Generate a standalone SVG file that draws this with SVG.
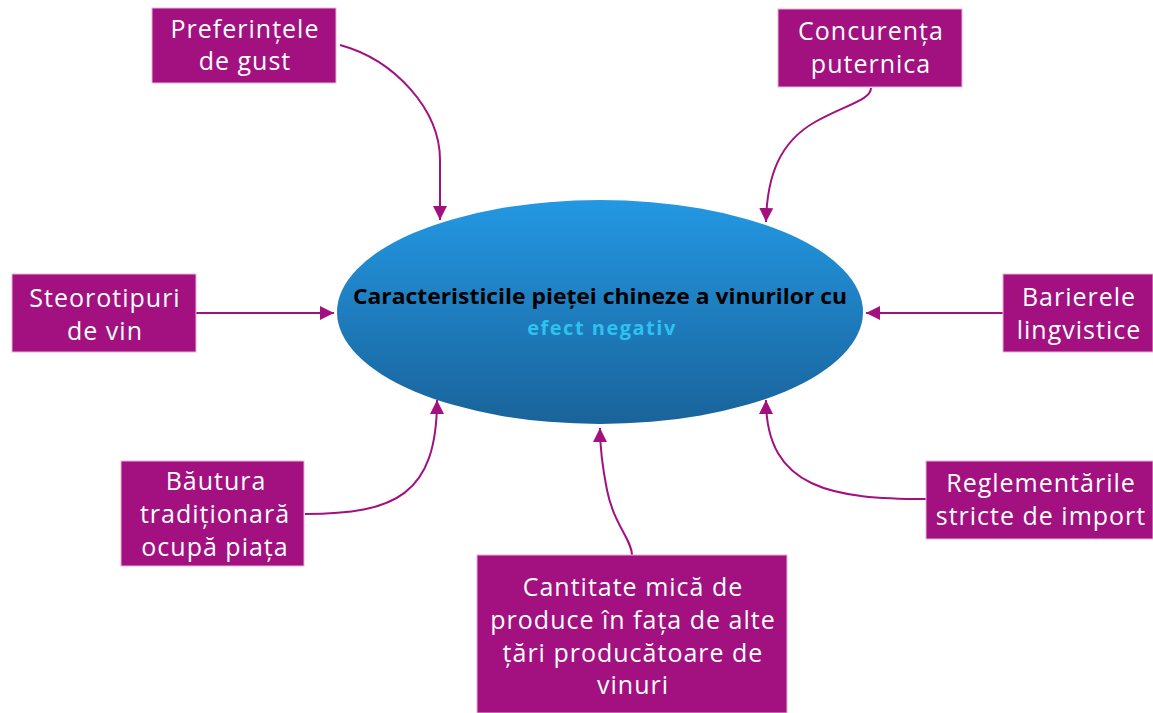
<svg xmlns="http://www.w3.org/2000/svg" width="1153" height="713" viewBox="0 0 1153 713">
<style>
.box{fill:#a2117f;stroke:#e8b4da;stroke-width:1}
.bt{font-family:"Open Sans","Noto Sans",sans-serif;font-size:25px;letter-spacing:1px;fill:#ffffff;text-anchor:middle}
.conn{fill:none;stroke:#a2117f;stroke-width:2}
.ct{font-family:"Open Sans","Noto Sans",sans-serif;font-weight:bold;font-size:20px;text-anchor:middle}
.ct1{font-size:21.5px}
</style>
<defs>
<linearGradient id="eg" x1="0" y1="0" x2="0" y2="1">
<stop offset="0" stop-color="#2398e3"/>
<stop offset="1" stop-color="#19639a"/>
</linearGradient>
<marker id="ah" markerUnits="userSpaceOnUse" markerWidth="16" markerHeight="14" refX="14" refY="7" orient="auto">
<path d="M0,0 L14,7 L0,14 Z" fill="#a2117f"/>
</marker>
</defs>
<rect width="1153" height="713" fill="#ffffff"/>
<g id="center">
<ellipse cx="600" cy="312" rx="263" ry="112" fill="url(#eg)"/>
<text class="ct ct1" x="600" y="304" fill="#000000" textLength="494" lengthAdjust="spacingAndGlyphs">Caracteristicile pieței chineze a vinurilor cu</text>
<text class="ct" x="602" y="335" fill="#2cc3ef" letter-spacing="1.5">efect negativ</text>
</g>
<g id="connectors">
<path class="conn" marker-end="url(#ah)" d="M340,45 C395,60 440,110 440,160 L440,220"/>
<path class="conn" marker-end="url(#ah)" d="M871,88 C871,100 845,105 815,122 C780,142 767,175 766,222"/>
<path class="conn" marker-end="url(#ah)" d="M196,313 L334,313"/>
<path class="conn" marker-end="url(#ah)" d="M1003,313 L866,313"/>
<path class="conn" marker-end="url(#ah)" d="M305,514 C395,514 437,495 437,400"/>
<path class="conn" marker-end="url(#ah)" d="M926,499 C835,499 766,490 766,400"/>
<path class="conn" marker-end="url(#ah)" d="M632,555 C632,540 614,525 607,490 C601,460 600,445 600,428"/>
</g>
<g id="n1"><rect class="box" x="152" y="8" width="184" height="75"/>
<text class="bt" x="245" y="38">Preferințele</text><text class="bt" x="245" y="70">de gust</text></g>
<g id="n2"><rect class="box" x="778" y="9" width="184" height="78"/>
<text class="bt" x="871" y="40">Concurența</text><text class="bt" x="871" y="73">puternica</text></g>
<g id="n3"><rect class="box" x="12" y="274" width="184" height="78"/>
<text class="bt" x="105" y="307">Steorotipuri</text><text class="bt" x="105" y="340">de vin</text></g>
<g id="n4"><rect class="box" x="1003" y="274" width="150" height="78"/>
<text class="bt" x="1079" y="306">Barierele</text><text class="bt" x="1079" y="339">lingvistice</text></g>
<g id="n5"><rect class="box" x="121" y="461" width="183" height="105"/>
<text class="bt" x="216" y="490">Băutura</text><text class="bt" x="215" y="523">tradiționară</text><text class="bt" x="215" y="556">ocupă piața</text></g>
<g id="n6"><rect class="box" x="926" y="461" width="227" height="78"/>
<text class="bt" x="1041" y="492">Reglementările</text><text class="bt" x="1041" y="525">stricte de import</text></g>
<g id="n7"><rect class="box" x="477" y="555" width="310" height="158"/>
<text class="bt" x="633" y="596">Cantitate mică de</text><text class="bt" x="633" y="629">produce în fața de alte</text><text class="bt" x="633" y="662">țări producătoare de</text><text class="bt" x="633" y="694">vinuri</text></g>
</svg>
